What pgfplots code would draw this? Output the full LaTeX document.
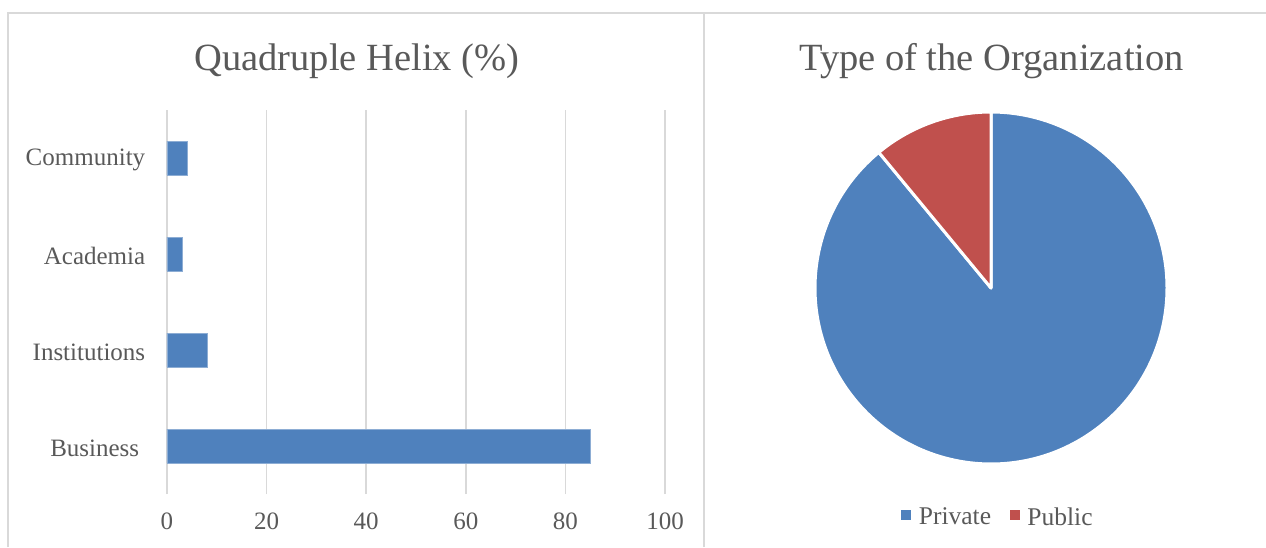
\documentclass[border=0pt]{standalone}
\usepackage{pgfplots}
\pgfplotsset{compat=1.18}
\usepackage{pgfplotstable}
\usepackage{fontspec}
\setmainfont{Liberation Serif}

\definecolor{barblue}{HTML}{4F81BD}
\definecolor{pubred}{HTML}{C0504D}
\definecolor{txtgray}{HTML}{595959}
\definecolor{gridgray}{HTML}{D9D9D9}

% Quadruple helix shares (%)
\pgfplotstableread{
y share label
0 85 Business
1 8  Institutions
2 3  Academia
3 4  Community
}\helixtable

% Organization type shares (%)
\pgfplotstableread{
type value
Private 89
Public 11
}\orgtable

\pgfplotstablegetelem{1}{value}\of\orgtable
\let\vPublic\pgfplotsretval
% Excel starts the first slice at 12 o'clock and runs clockwise
\pgfmathsetmacro{\aSplit}{90+3.6*\vPublic}
\def\pieR{176pt}

\begin{document}
\begin{tikzpicture}
\path[use as bounding box] (0pt,0pt) rectangle (1266pt,547pt);
% chart frames
\draw[gridgray, line width=1.5pt] (8pt,0pt) -- (8pt,534pt) -- (1266pt,534pt);
\draw[gridgray, line width=1.5pt] (704pt,0pt) -- (704pt,534pt);

% titles
\node[text=txtgray, font=\fontsize{38.5}{44}\selectfont] at (357pt,486pt) {Quadruple Helix (\%)};
\node[text=txtgray, font=\fontsize{38.5}{44}\selectfont] at (991.5pt,486pt) {Type of the Organization};

% bar chart
\begin{axis}[
  at={(167pt,53pt)}, anchor=south west,
  scale only axis, width=498pt, height=384pt,
  xbar, bar width=34pt,
  xmin=0, xmax=100, ymin=-0.5, ymax=3.5,
  xtick={0,20,...,100},
  ytick={0,1,2,3},
  yticklabels={Business\kern6pt,Institutions,Academia,Community},
  xmajorgrids,
  grid style={gridgray, line width=1.5pt},
  axis line style={draw=none},
  major tick style={draw=none},
  tick label style={font=\fontsize{25}{30}\selectfont, text=txtgray},
  /pgf/number format/assume math mode=true,
  xticklabel style={yshift=-15pt},
  yticklabel style={xshift=-14pt, yshift=-2pt},
  clip=false,
]
\addplot[fill=barblue, draw=barblue!65!white, line width=0.6pt] table[x=share, y=y] {\helixtable};
\end{axis}

% pie chart
\begin{axis}[
  at={(991pt,259pt)}, anchor=center,
  scale only axis, width=352pt, height=352pt,
  xmin=-1, xmax=1, ymin=-1, ymax=1,
  hide axis, clip=false,
  legend style={at={(axis description cs:0.52,-0.1506)}, anchor=center,
    draw=none, fill=none, font=\fontsize{25.5}{29}\selectfont, text=txtgray,
    /tikz/every even column/.append style={column sep=17pt}},
  legend columns=2,
]
\fill[barblue, draw=white, line width=3pt, line join=round]
  (axis cs:0,0) -- (axis cs:{cos(\aSplit)},{sin(\aSplit)})
  arc[start angle=\aSplit, end angle=450, radius=\pieR] -- cycle;
\fill[pubred, draw=white, line width=3pt, line join=round]
  (axis cs:0,0) -- (axis cs:0,1)
  arc[start angle=90, end angle=\aSplit, radius=\pieR] -- cycle;
\addlegendimage{legend image code/.code={\fill[barblue] (0pt,-2pt) rectangle (8.6pt,6.6pt); \path (15pt,0pt);}}
\addlegendentry{Private}
\addlegendimage{legend image code/.code={\fill[pubred] (0pt,-2pt) rectangle (8.6pt,6.6pt); \path (15pt,0pt);}}
\addlegendentry{Public}
\end{axis}
\end{tikzpicture}
\end{document}
